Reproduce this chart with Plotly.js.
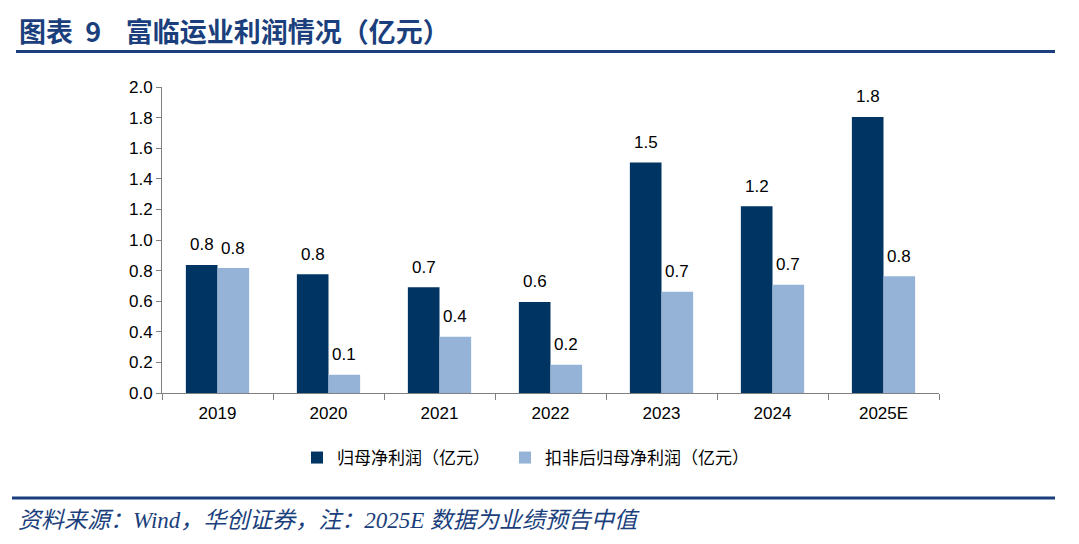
<!DOCTYPE html>
<html>
<head>
<meta charset="utf-8">
<script src="https://cdn.plot.ly/plotly-3.0.1.min.js"></script>
<style>html,body{margin:0;padding:0;background:#fff;}#chart{width:1079px;height:544px;}</style>
</head>
<body>
<div id="chart"></div>
<script>
const categories = ["2019", "2020", "2021", "2022", "2023", "2024", "2025E"];
const netProfit = [0.837, 0.776, 0.691, 0.595, 1.507, 1.220, 1.804];
const deductedProfit = [0.817, 0.119, 0.367, 0.185, 0.661, 0.708, 0.763];
const seriesNames = ["归母净利润（亿元）", "扣非后归母净利润（亿元）"];
const yTicks = [0, 0.2, 0.4, 0.6, 0.8, 1.0, 1.2, 1.4, 1.6, 1.8, 2.0];

const darkColor = "#003462";
const lightColor = "#95B3D7";
const navy = "#1B3F7C";
const latin = "Liberation Sans, Arial, Noto Sans CJK SC, sans-serif";
const cjk = "Liberation Sans, Noto Sans CJK SC, sans-serif";

const bargap = 0.43;

const traces = [
  {type: "bar", name: seriesNames[0], x: categories, y: netProfit, marker: {color: darkColor}, hoverinfo: "none", legend: "legend"},
  {type: "bar", name: seriesNames[1], x: categories, y: deductedProfit, marker: {color: lightColor}, hoverinfo: "none", legend: "legend2"}
];

const L = 162, R = 140, T = 87, B = 151, W = 1079, H = 544;
const plotW = W - L - R, plotH = H - T - B;
const catW = plotW / categories.length;
const barW = catW * (1 - bargap) / 2;

const annotations = [];
[netProfit, deductedProfit].forEach((vals, si) => {
  vals.forEach((v, i) => {
    annotations.push({
      x: i, y: v, xref: "x", yref: "y",
      text: v.toFixed(1), showarrow: false,
      xshift: (si === 0 ? -1 : 1) * barW / 2,
      yshift: 20, yanchor: "middle",
      font: {family: latin, size: 17, color: "#000"}
    });
  });
});

// title
annotations.push({
  xref: "paper", yref: "paper",
  x: (17 - L) / plotW, y: (T + plotH - 30) / plotH,
  xanchor: "left", yanchor: "middle", showarrow: false,
  text: "<b>图表\u00a0\u00a09\u00a0\u00a0\u00a0\u00a0富临运业利润情况（亿元）</b>",
  font: {family: "Noto Sans CJK SC, sans-serif", size: 27, color: navy}
});
// footer
annotations.push({
  xref: "paper", yref: "paper",
  x: (16 - L) / plotW, y: (T + plotH - 520) / plotH,
  xanchor: "left", yanchor: "middle", showarrow: false,
  text: "<i>资料来源：Wind，华创证券，注：2025E 数据为业绩预告中值</i>",
  font: {family: "Liberation Serif, Noto Sans CJK SC, serif", size: 23, color: navy}
});

const toPY = py => (T + plotH - py) / plotH;
const toPX = px => (px - L) / plotW;
const shapes = [
  {type: "line", xref: "paper", yref: "paper", x0: toPX(16), x1: toPX(1055), y0: toPY(51.5), y1: toPY(51.5), line: {color: navy, width: 3}},
  {type: "line", xref: "paper", yref: "paper", x0: toPX(12), x1: toPX(1055), y0: toPY(498), y1: toPY(498), line: {color: navy, width: 3}}
];

const legendBase = {
  orientation: "h", xanchor: "left", yanchor: "middle",
  font: {family: cjk, size: 17, color: "#000"},
  itemclick: false, itemdoubleclick: false
};

const layout = {
  width: W, height: H,
  margin: {l: L, r: R, t: T, b: B, pad: 0},
  paper_bgcolor: "#fff", plot_bgcolor: "#fff",
  barmode: "group", bargap: bargap, bargroupgap: 0,
  showlegend: true,
  legend: Object.assign({}, legendBase, {x: toPX(297), y: toPY(458)}),
  legend2: Object.assign({}, legendBase, {x: toPX(505), y: toPY(458)}),
  xaxis: {
    type: "category", range: [-0.5, categories.length - 0.5], tickson: "boundaries", ticks: "outside", ticklen: 6, tickcolor: "#808080",
    showline: true, linecolor: "#808080", linewidth: 1, showgrid: false, zeroline: false, ticklabelstandoff: 5,
    tickfont: {family: latin, size: 17, color: "#000"}, fixedrange: true
  },
  yaxis: {
    range: [0, 2.0], tickvals: yTicks, tickformat: ".1f", ticks: "outside", ticklen: 5, tickcolor: "#808080",
    showline: true, linecolor: "#808080", linewidth: 1, showgrid: false, zeroline: false,
    tickfont: {family: latin, size: 17, color: "#000"}, fixedrange: true
  },
  annotations: annotations,
  shapes: shapes
};

Plotly.newPlot("chart", traces, layout, {displayModeBar: false, staticPlot: true});
</script>
</body>
</html>
